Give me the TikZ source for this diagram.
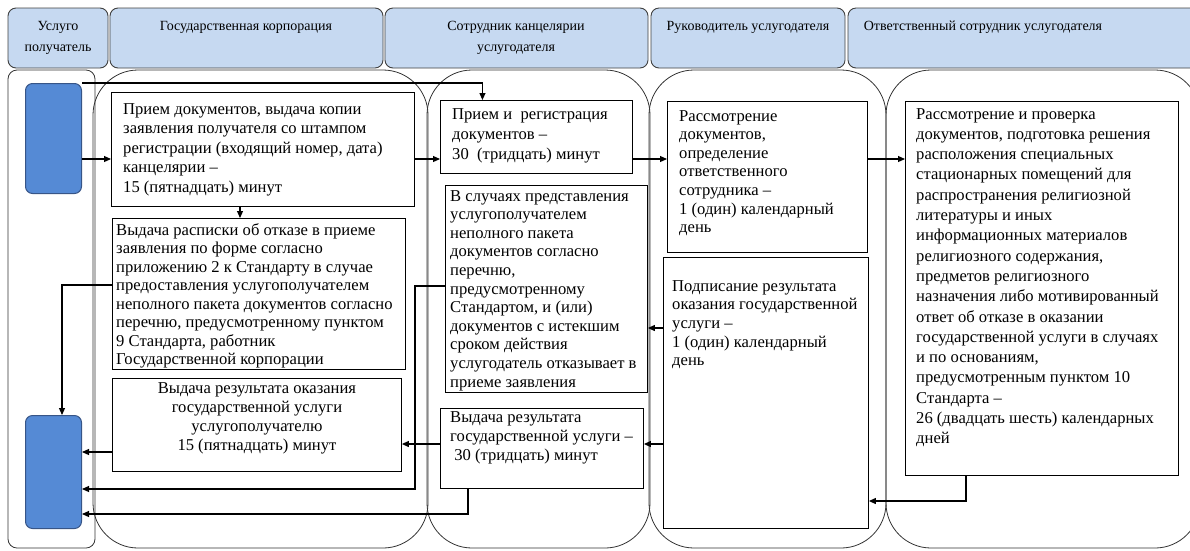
\documentclass[tikz,border=0pt]{standalone}
\usepackage{fontspec}
\setmainfont{Liberation Serif}
\usetikzlibrary{arrows.meta}
\definecolor{headblue}{RGB}{198,217,241}
\definecolor{clientblue}{RGB}{85,138,213}
\definecolor{clientedge}{RGB}{55,85,135}
\begin{document}
\begin{tikzpicture}[x=1pt, y=-1pt,
    lane/.style={draw=black!80, line width=0.8pt},
    head/.style={draw=black!75, fill=headblue, line width=0.9pt, rounded corners=8pt},
    headtxt/.style={anchor=north, align=center, inner sep=0pt, font=\fontsize{14}{21}\selectfont},
    stepbox/.style={draw, line width=0.9pt, anchor=north west, inner sep=0pt},
    txt/.style={anchor=north west, align=left, inner sep=0pt, font=\fontsize{16.6}{19}\selectfont},
    client/.style={draw=clientedge, fill=clientblue, line width=1pt, rounded corners=7pt,
      anchor=north west, minimum width=56pt, minimum height=110pt, inner sep=0pt},
    arr/.style={line width=1.1pt, -{Triangle[length=7pt,width=6pt]}}]
  \useasboundingbox (0,0) rectangle (1190,550);
  \clip (0,0) rectangle (1190,550);

  \draw[head] (8,8) rectangle (108,68);
  \draw[head] (110,8) rectangle (383,68);
  \draw[head] (385,8) rectangle (648,68);
  \draw[head] (651,8) rectangle (845,68);
  \draw[head] (848,8) rectangle (1202,68);
  \node[headtxt] (h1) at (58,21) {Услуго\\получатель};
  \node[headtxt] (h2) at (246,21) {Государственная корпорация};
  \node[headtxt] (h3) at (516,21) {Сотрудник канцелярии\\услугодателя};
  \node[headtxt] (h4) at (748,21) {Руководитель услугодателя};
  \node[headtxt] (h5) at (983,21) {Ответственный сотрудник услугодателя};

  \draw[lane, rounded corners=9pt] (8,70) rectangle (95,548);
  \draw[lane, rounded corners=45pt] (93,70) rectangle (428,548);
  \draw[lane, rounded corners=45pt] (427,70) rectangle (650,548);
  \draw[lane, rounded corners=45pt] (649,70) rectangle (886,548);
  \draw[lane, rounded corners=45pt] (886,70) rectangle (1200,548);

  \node[client] (c1) at (25,83) {};
  \node[client, minimum height=113pt] (c2) at (25,415) {};

  \node[stepbox, minimum width=303pt, minimum height=114pt] (b1) at (111,92) {};
  \node[txt, font=\fontsize{16.6}{19.5}\selectfont] (b1t) at ([xshift=12pt,yshift=-11pt]b1.north west)
    {Прием документов, выдача копии\\заявления получателя со штампом\\регистрации (входящий номер, дата)\\канцелярии --\\15 (пятнадцать) минут};
  \node[stepbox, minimum width=293pt, minimum height=151pt] (b2) at (112,218) {};
  \node[txt, font=\fontsize{16.6}{18.5}\selectfont] (b2t) at ([xshift=4pt,yshift=-5pt]b2.north west)
    {Выдача расписки об отказе в приеме\\заявления по форме согласно\\приложению 2 к Стандарту в случае\\предоставления услугополучателем\\неполного пакета документов согласно\\перечню, предусмотренному пунктом\\9 Стандарта, работник\\Государственной корпорации};
  \node[stepbox, minimum width=289pt, minimum height=93pt] (b3) at (112,378) {};
  \node[txt, anchor=north, align=center] (b3t) at ([yshift=-4pt]b3.north)
    {Выдача результата оказания\\государственной услуги\\услугополучателю\\15 (пятнадцать) минут};

  \node[stepbox, minimum width=192pt, minimum height=73pt] (b4) at (440,100) {};
  \node[txt, font=\fontsize{16.6}{20}\selectfont] (b4t) at ([xshift=12pt,yshift=-8pt]b4.north west)
    {Прием и\ \ регистрация\\документов --\\30\ \ (тридцать) минут};
  \node[stepbox, minimum width=202pt, minimum height=207pt] (b5) at (445,185) {};
  \node[txt, font=\fontsize{16.6}{18.6}\selectfont] (b5t) at ([xshift=5pt,yshift=-5pt]b5.north west)
    {В случаях представления\\услугополучателем\\неполного пакета\\документов согласно\\перечню,\\предусмотренному\\Стандартом, и (или)\\документов с истекшим\\сроком действия\\услугодатель отказывает в\\приеме заявления};
  \node[stepbox, minimum width=203pt, minimum height=80pt] (b6) at (440,408) {};
  \node[txt] (b6t) at ([xshift=10pt,yshift=-3pt]b6.north west)
    {Выдача результата\\государственной услуги --\\\ 30 (тридцать) минут};

  \node[stepbox, minimum width=200pt, minimum height=151pt] (b7) at (667,101) {};
  \node[txt, font=\fontsize{16.6}{18.6}\selectfont] (b7t) at ([xshift=12pt,yshift=-9pt]b7.north west)
    {Рассмотрение\\документов,\\определение\\ответственного\\сотрудника --\\1 (один) календарный\\день};
  \node[stepbox, minimum width=205pt, minimum height=271pt] (b8) at (663,257) {};
  \node[txt, font=\fontsize{16.6}{18.7}\selectfont] (b8t) at ([xshift=9pt,yshift=-23pt]b8.north west)
    {Подписание результата\\оказания государственной\\услуги --\\1 (один) календарный\\день};

  \node[stepbox, minimum width=273pt, minimum height=374pt] (b9) at (905,101) {};
  \node[txt, font=\fontsize{16.6}{20.3}\selectfont] (b9t) at ([xshift=11pt,yshift=-7pt]b9.north west)
    {Рассмотрение и проверка\\документов, подготовка решения\\расположения специальных\\стационарных помещений для\\распространения религиозной\\литературы и иных\\информационных материалов\\религиозного содержания,\\предметов религиозного\\назначения либо мотивированный\\ответ об отказе в оказании\\государственной услуги в случаях\\и по основаниям,\\предусмотренным пунктом 10\\Стандарта --\\26 (двадцать шесть) календарных\\дней};

  \draw[arr] (c1.east |- 0,159) -- (b1.west |- 0,159);
  \draw[arr] (c1.north east) -| ([xshift=-54pt]b4.north);
  \draw[arr] (b1.south -| 240,0) -- (b2.north -| 240,0);
  \draw[arr] (b2.west |- 0,285) -| (c2.north -| 62,0);
  \draw[arr] (b5.west |- 0,286) -- (415,286) |- (c2.east |- 0,489);
  \draw[arr] (b3.west |- 0,452) -- (c2.east |- 0,452);
  \draw[arr] (b6.west |- 0,444) -- (b3.east |- 0,444);
  \draw[arr] (b6.south -| 468,0) |- (c2.east |- 0,514);
  \draw[arr] (b1.east |- 0,159) -- (b4.west |- 0,159);
  \draw[arr] (b4.east |- 0,159) -- (b7.west |- 0,159);
  \draw[arr] (b7.east |- 0,159) -- (b9.west |- 0,159);
  \draw[arr] (b8.west |- 0,328) -- (b5.east |- 0,328);
  \draw[arr] (b8.west |- 0,444) -- (b6.east |- 0,444);
  \draw[arr] (b9.south -| 966,0) |- (b8.east |- 0,501);
\end{tikzpicture}
\end{document}
